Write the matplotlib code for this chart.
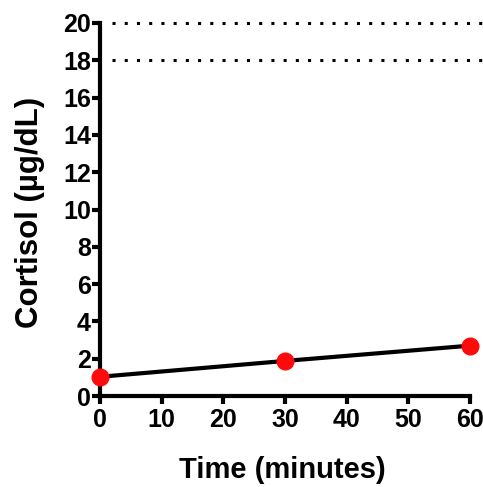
import matplotlib
matplotlib.use("Agg")
import matplotlib.pyplot as plt

time_min = [0, 30, 60]
cortisol = [1.03, 1.88, 2.7]
ref_levels = [18, 20]
xticks = [0, 10, 20, 30, 40, 50, 60]
yticks = [0, 2, 4, 6, 8, 10, 12, 14, 16, 18, 20]

plt.rcParams['font.family'] = ['Liberation Sans', 'DejaVu Sans']
plt.rcParams['font.weight'] = 'bold'

fig = plt.figure(figsize=(4.83, 4.87), dpi=100)
ax = fig.add_axes([100/483, 91/487, 383/483, 373/487])

for lvl in ref_levels:
    ax.plot([2, 62.1], [lvl, lvl], color='black', lw=2.2, linestyle=(0, (1, 3)),
            clip_on=False, zorder=2)

ax.plot(time_min, cortisol, color='black', lw=3, zorder=3, clip_on=False)
ax.plot(time_min, cortisol, linestyle='none', marker='o', markersize=12,
        markerfacecolor='#ff0a0a', markeredgecolor='#ff0a0a', zorder=4, clip_on=False)

ax.set_xlim(0, 62.1)
ax.set_ylim(0, 20)
ax.spines['top'].set_visible(False)
ax.spines['right'].set_visible(False)
ax.spines['left'].set_linewidth(3)
ax.spines['bottom'].set_linewidth(3)
ax.spines['bottom'].set_bounds(0, 60)
ax.set_xticks(xticks)
ax.set_yticks(yticks)
ax.set_xticklabels([str(t) for t in xticks])
ax.set_yticklabels([str(t) for t in yticks])
ax.tick_params(axis='both', direction='out', length=5.5, width=3, labelsize=18)
ax.tick_params(axis='y', pad=1)
ax.tick_params(axis='x', pad=3)

ax.set_xlabel('Time (minutes)', fontsize=21, fontweight='bold')
ax.set_ylabel('Cortisol (µg/dL)', fontsize=22.5, fontweight='bold')
ax.xaxis.set_label_coords(0.475, -0.198)
ax.xaxis.label.set_va('center')
ax.yaxis.set_label_coords(-0.183, 0.493)
ax.yaxis.label.set_va('center')

fig.savefig('out.png', dpi=100)
